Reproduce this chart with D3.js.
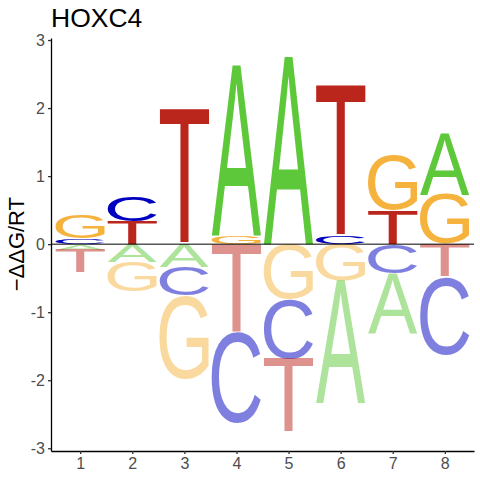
<!DOCTYPE html>
<html lang="en">
    <head>
        <meta charset="UTF-8">
        <title>HOXC4</title>
        <script type="text/javascript" src="https://cdnjs.cloudflare.com/ajax/libs/d3/7.8.5/d3.min.js"></script>
        <style>
            body { margin: 0; background: #fff; }
            svg { display: block; }
        </style>
    </head>
    <body>
        <div id="chart"></div>
        <script type="text/javascript">
            var positions = [1, 2, 3, 4, 5, 6, 7, 8];
            var bases = ['A', 'C', 'G', 'T'];
            var valA = [-0.08, -0.26, -0.34, 2.51, 2.76, -1.80, -0.89, 0.91];
            var valC = [0.08, 0.37, -0.42, -1.33, -0.87, 0.12, -0.43, -1.15];
            var valG = [0.35, -0.44, -1.22, 0.12, -0.81, -0.54, 0.82, 0.73];
            var valT = [-0.34, 0.34, 1.99, -1.30, -1.08, 2.22, 0.50, -0.48];
            var yTicks = [-3, -2, -1, 0, 1, 2, 3];
            var title = 'HOXC4';
            var yLabel = '\u2212\u0394\u0394G/RT';

            var WIDTH = 480;
            var HEIGHT = 480;
            var LETTER_WIDTH = 0.95;
            var FONT = 'Liberation Sans, Arial, sans-serif';

            var colors = {A: '#5dc83a', C: '#0000c0', G: '#f5b33e', T: '#bb261c'};
            var series = {A: valA, C: valC, G: valG, T: valT};

            var svg = d3.select('#chart').append('svg')
                .attr('width', WIDTH)
                .attr('height', HEIGHT);

            var x = d3.scaleLinear().domain([0.44, 8.56]).range([51, 474]);
            var y = d3.scaleLinear().domain([-3.04, 3.03]).range([451, 38]);

            // ink bounds of each glyph, measured on a canvas
            var ctx = document.createElement('canvas').getContext('2d');
            ctx.font = '100px ' + FONT;
            var metrics = {};
            bases.forEach(function (b) {
                var m = ctx.measureText(b);
                metrics[b] = {
                    left: m.actualBoundingBoxLeft,
                    right: m.actualBoundingBoxRight,
                    ascent: m.actualBoundingBoxAscent,
                    descent: m.actualBoundingBoxDescent
                };
            });

            // stack letters: smallest next to zero, largest outward
            var letters = [];
            positions.forEach(function (p, i) {
                var cells = bases.map(function (b) {
                    return {base: b, value: series[b][i], pos: p};
                });
                var pos = cells.filter(function (c) { return c.value > 0; })
                    .sort(function (a, b) { return a.value - b.value; });
                var neg = cells.filter(function (c) { return c.value < 0; })
                    .sort(function (a, b) { return b.value - a.value; });
                var acc = 0;
                pos.forEach(function (c) {
                    c.y0 = acc; c.y1 = acc + c.value; acc = c.y1;
                    letters.push(c);
                });
                acc = 0;
                neg.forEach(function (c) {
                    c.y1 = acc; c.y0 = acc + c.value; acc = c.y0;
                    letters.push(c);
                });
            });

            var logo = svg.append('g');

            logo.selectAll('text')
                .data(letters)
                .enter()
                .append('text')
                .attr('font-family', FONT)
                .attr('font-size', 100)
                .attr('x', function (d) { return metrics[d.base].left; })
                .attr('y', function (d) { return metrics[d.base].ascent; })
                .attr('fill', function (d) { return colors[d.base]; })
                .attr('fill-opacity', function (d) { return d.value < 0 ? 0.5 : 1; })
                .attr('transform', function (d) {
                    var m = metrics[d.base];
                    var bx = x(d.pos - LETTER_WIDTH / 2);
                    var bw = x(d.pos + LETTER_WIDTH / 2) - bx;
                    var by = y(d.y1);
                    var bh = y(d.y0) - by;
                    var sx = bw / (m.left + m.right);
                    var sy = bh / (m.ascent + m.descent);
                    return 'translate(' + bx + ',' + by + ') scale(' + sx + ',' + sy + ')';
                })
                .text(function (d) { return d.base; });

            // zero line
            svg.append('line')
                .attr('x1', x.range()[0])
                .attr('x2', x.range()[1])
                .attr('y1', y(0))
                .attr('y2', y(0))
                .attr('stroke', '#000')
                .attr('stroke-width', 1);

            // axes
            var xAxis = svg.append('g')
                .attr('transform', 'translate(0,' + y.range()[0] + ')')
                .call(d3.axisBottom(x).tickValues(positions).tickSize(3).tickSizeOuter(0).tickPadding(4));

            var yAxis = svg.append('g')
                .attr('transform', 'translate(' + x.range()[0] + ',0)')
                .call(d3.axisLeft(y).tickValues(yTicks).tickSize(3).tickSizeOuter(0).tickPadding(3)
                    .tickFormat(function (d) { return String(d); }));

            [xAxis, yAxis].forEach(function (a) {
                a.select('.domain').attr('stroke', '#000').attr('stroke-width', 1.3);
                a.selectAll('.tick line').attr('stroke', '#333').attr('stroke-width', 1.3);
                a.selectAll('.tick text')
                    .attr('fill', '#4d4d4d')
                    .attr('font-family', FONT)
                    .attr('font-size', 16);
            });

            // title
            svg.append('text')
                .attr('x', 51)
                .attr('y', 27)
                .attr('font-family', FONT)
                .attr('font-size', 26.5)
                .attr('fill', '#000')
                .text(title);

            // y axis title
            svg.append('text')
                .attr('transform', 'translate(24,' + y(0) + ') rotate(-90)')
                .attr('text-anchor', 'middle')
                .attr('font-family', FONT)
                .attr('font-size', 22)
                .attr('fill', '#000')
                .text(yLabel);
        </script>
    </body>
</html>
